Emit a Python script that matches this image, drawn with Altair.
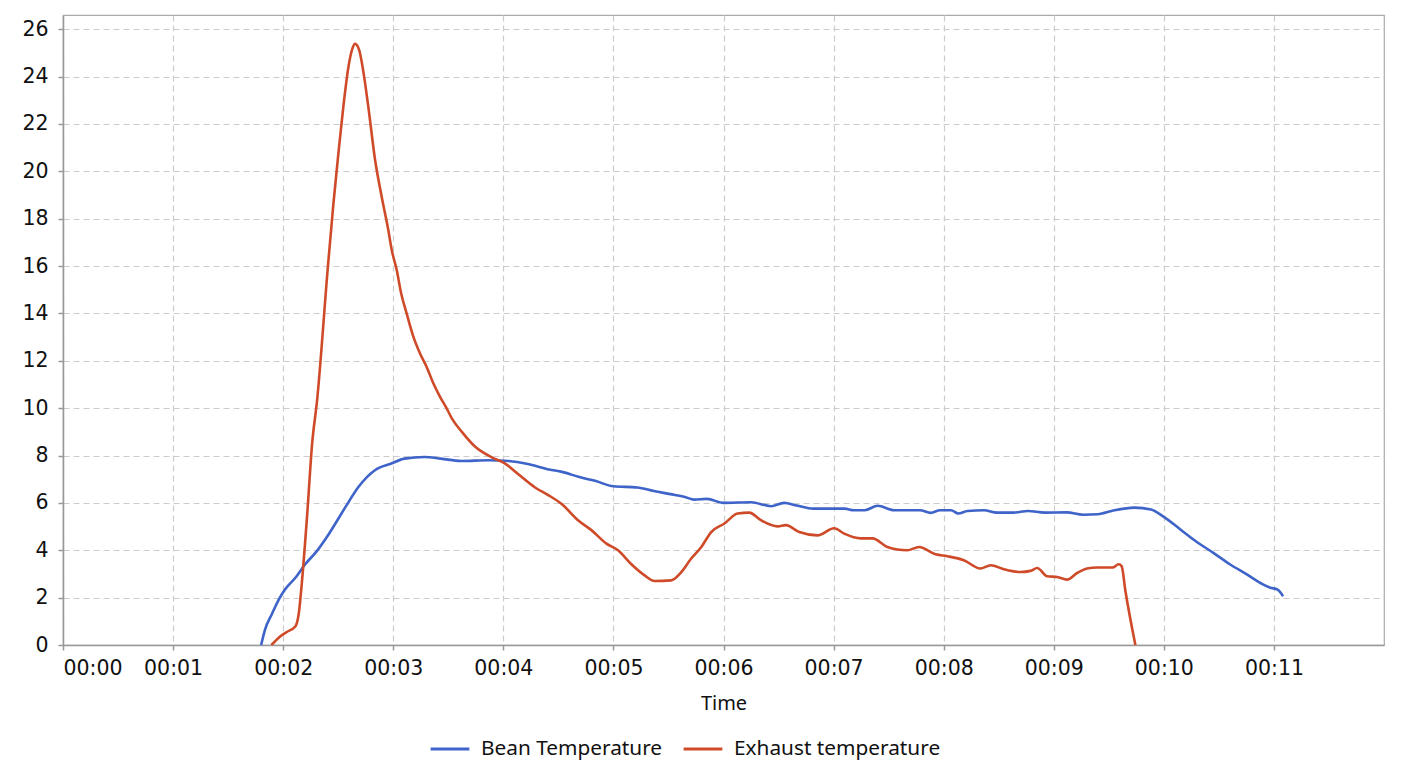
import altair as alt
import pandas as pd

# Bean Temperature (rate) : time in seconds, value
bean_t = [108, 110, 114, 117.6, 121, 127, 132, 138, 145, 154, 161, 170, 179, 186, 197, 206, 217,
          232, 243, 254, 265, 272, 281, 290, 300, 313, 322, 331, 339, 344, 351, 360, 375, 386,
          393, 400, 409, 426, 431, 437, 444, 453, 467, 473, 478, 484, 488, 493, 502, 509, 518,
          526, 535, 547, 556, 564, 573, 584, 593, 600, 609, 618, 627, 636, 645, 654, 658, 662, 665]
bean_v = [0, 0.62, 1.33, 1.92, 2.34, 2.87, 3.41, 3.93, 4.7, 5.83, 6.67, 7.38, 7.66, 7.87, 7.94,
          7.87, 7.77, 7.8, 7.77, 7.63, 7.41, 7.31, 7.1, 6.93, 6.7, 6.65, 6.5, 6.37, 6.25, 6.14,
          6.17, 6.0, 6.03, 5.86, 6.0, 5.89, 5.76, 5.76, 5.69, 5.69, 5.88, 5.69, 5.69, 5.58, 5.69,
          5.69, 5.55, 5.66, 5.69, 5.59, 5.59, 5.66, 5.59, 5.6, 5.5, 5.52, 5.69, 5.8, 5.72, 5.41,
          4.88, 4.35, 3.89, 3.41, 2.99, 2.56, 2.42, 2.34, 2.06]

# Exhaust temperature (rate)
exh_t = [113.6, 117.6, 122, 126.7, 128.5, 130.3, 133, 135.8, 138.5, 144.3, 147.4, 150.1, 152.8,
         155.6, 157.8, 159.2, 161.4, 163.7, 166.4, 170.1, 173.7, 177.3, 179.2, 181.9, 184.3,
         187.3, 191, 194.6, 198.2, 201.9, 205.5, 209.1, 212, 217.4, 224.7, 233.8, 241, 248.2,
         257.3, 264.7, 272, 280.7, 288, 296.2, 302.5, 309.8, 317, 322.4, 331.5, 337, 342.4,
         347.9, 353.3, 360.5, 367.7, 374, 380.4, 389.5, 394, 401.3, 411.2, 420.3, 425.8, 434.8,
         441.2, 449.3, 454.8, 460.2, 466.6, 475.6, 482, 491, 500, 505.6, 512.8, 521.9, 527.3,
         531, 536.4, 541.9, 547.3, 552.7, 558.2, 563.6, 572, 575.4, 577, 579, 584.5]
exh_v = [0, 0.31, 0.55, 0.79, 1.33, 2.73, 5.41, 8.51, 10.34, 15.9, 18.65, 20.76, 22.73, 24.42,
         25.2, 25.38, 25.13, 24.21, 22.73, 20.48, 18.93, 17.52, 16.67, 15.83, 14.85, 14.0, 13.01,
         12.31, 11.74, 11.04, 10.48, 9.99, 9.56, 9.0, 8.37, 7.92, 7.66, 7.21, 6.65, 6.32, 5.94,
         5.27, 4.85, 4.28, 4.0, 3.41, 2.94, 2.7, 2.73, 3.08, 3.65, 4.14, 4.77, 5.13, 5.55, 5.59,
         5.27, 5.01, 5.06, 4.77, 4.63, 4.93, 4.7, 4.5, 4.5, 4.14, 4.03, 4.0, 4.14, 3.83, 3.75,
         3.58, 3.23, 3.37, 3.2, 3.08, 3.13, 3.25, 2.9, 2.87, 2.76, 3.04, 3.23, 3.27, 3.27, 3.41,
         3.33, 2.31, 0]

series_names = ["Bean Temperature", "Exhaust temperature"]
series_colors = ["#3e63c9", "#cf4a28"]
x_ticks = [0, 60, 120, 180, 240, 300, 360, 420, 480, 540, 600, 660]
y_ticks = list(range(0, 27, 2))

df = pd.concat([
    pd.DataFrame({"t": bean_t, "v": bean_v, "series": series_names[0], "order": range(len(bean_t))}),
    pd.DataFrame({"t": exh_t, "v": exh_v, "series": series_names[1], "order": range(len(exh_t))}),
])

chart = alt.Chart(df).mark_line(strokeWidth=2.6, interpolate="monotone").encode(
    x=alt.X("t:Q", title="Time",
            scale=alt.Scale(domain=[0, 720], nice=False, zero=False),
            axis=alt.Axis(values=x_ticks,
                          labelExpr="utcFormat(datum.value*1000, '%H:%M')",
                          labelFont="DejaVu Sans", labelFontSize=20.5, labelColor="#111",
                          labelPadding=8, tickSize=5, tickColor="#999", domainColor="#999",
                          domainWidth=1.5, tickWidth=1.5,
                          titleFont="Noto Sans", titleFontSize=20, titleFontWeight="normal",
                          titleColor="#111", titlePadding=15,
                          grid=True, gridDash=[6, 4], gridColor="#cccccc", gridWidth=1.2)),
    y=alt.Y("v:Q", title=None,
            scale=alt.Scale(domain=[0, 26.6], nice=False),
            axis=alt.Axis(values=y_ticks, labelFont="DejaVu Sans", labelFontSize=20.5,
                          labelColor="#111", labelPadding=10, tickSize=5, tickColor="#999",
                          domainColor="#999", domainWidth=1.5, tickWidth=1.5,
                          grid=True, gridDash=[6, 4], gridColor="#cccccc", gridWidth=1.2)),
    color=alt.Color("series:N", title=None,
                    scale=alt.Scale(domain=series_names, range=series_colors),
                    legend=alt.Legend(orient="none", direction="horizontal",
                                      legendX=366, legendY=713, padding=0,
                                      symbolType="stroke", symbolStrokeWidth=3,
                                      symbolSize=1500, labelFont="Noto Sans",
                                      labelFontSize=20.8, labelColor="#111", labelLimit=0,
                                      labelOffset=10, columnPadding=14)),
    order="order:Q",
).properties(
    width=1321, height=630,
    padding={"left": 13, "top": 7, "right": 5, "bottom": 5},
).configure_view(stroke="#aaaaaa", strokeWidth=1.2)

chart.save("out.html", embed_options={"renderer": "svg", "actions": False})
